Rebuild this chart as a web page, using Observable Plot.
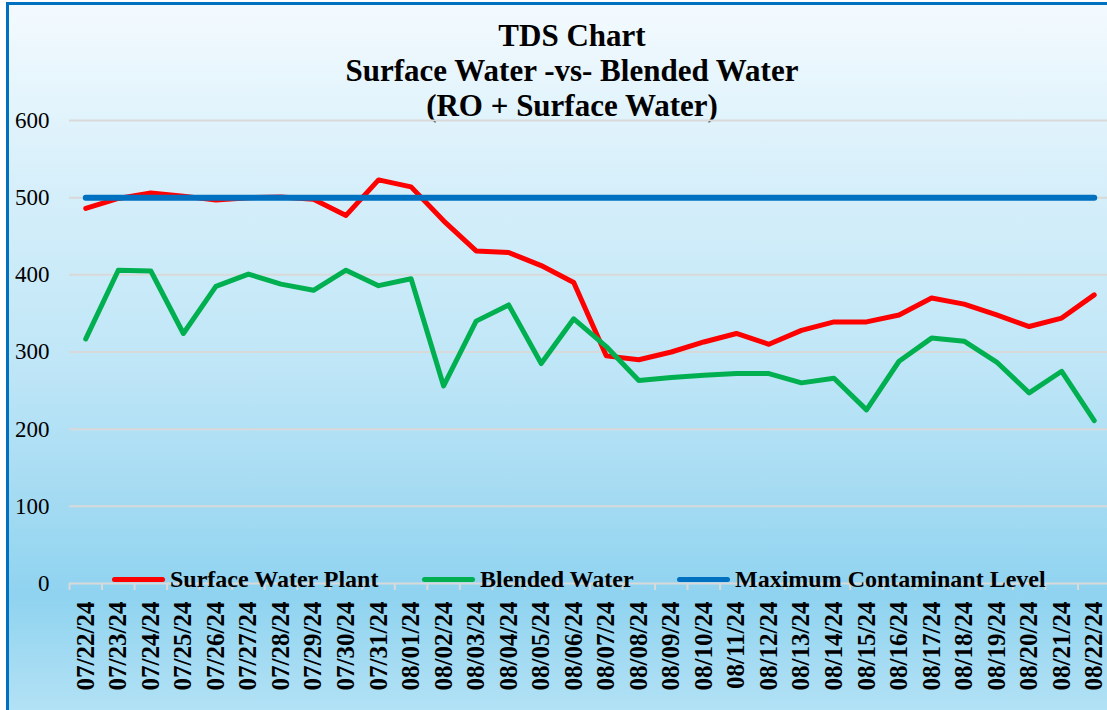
<!DOCTYPE html>
<html>
<head>
<meta charset="utf-8">
<script src="https://cdn.jsdelivr.net/npm/d3@7"></script>
<script src="https://cdn.jsdelivr.net/npm/@observablehq/plot@0.6"></script>
<style>
  html, body { margin: 0; padding: 0; background: #ffffff; }
  #wrap { position: relative; width: 1107px; height: 710px; overflow: hidden; background: #ffffff;
          font-family: "Liberation Serif", "Times New Roman", serif; }
  #bg { position: absolute; left: 6px; top: 2px; width: 1120px; height: 720px;
        border-left: 3px solid #0070c0; border-top: 3px solid #0070c0;
        background: linear-gradient(to bottom, #f3fafe 0%, #d6effa 25%, #bfe6f7 50%, #a2daf2 70%, #8fd3f0 82%, #a6dcf3 92%, #b6e4f6 100%); }
  #title { position: absolute; left: 0; top: 18px; width: 1144px; text-align: center;
           font-size: 31px; font-weight: bold; line-height: 35px; color: #000; }
  #chart { position: absolute; left: 0; top: 0; width: 1111px; height: 710px; }
  #chart svg { max-width: none !important; width: 1111px; height: 710px; }
  #chart svg text { font-family: "Liberation Serif", "Times New Roman", serif !important; }
  .lg-line { position: absolute; height: 5px; width: 53px; border-radius: 3px; }
  .lg-text { position: absolute; font-size: 24px; font-weight: bold; line-height: 28px; color: #000; white-space: nowrap; }
</style>
</head>
<body>
<div id="wrap">
  <div id="bg"></div>
  <div id="title"></div>
  <div id="chart"></div>
  <div id="legend"></div>
</div>
<script>
const titleLines = ["TDS Chart", "Surface Water -vs- Blended Water", "(RO + Surface Water)"];

const dates = ["07/22/24","07/23/24","07/24/24","07/25/24","07/26/24","07/27/24","07/28/24","07/29/24","07/30/24","07/31/24",
  "08/01/24","08/02/24","08/03/24","08/04/24","08/05/24","08/06/24","08/07/24","08/08/24","08/09/24","08/10/24","08/11/24",
  "08/12/24","08/13/24","08/14/24","08/15/24","08/16/24","08/17/24","08/18/24","08/19/24","08/20/24","08/21/24","08/22/24"];

const surfaceWaterPlant = [486,499,506,502,497,500,501,498,477,523,
  514,470,431,429,412,390,295,290,300,313,324,310,328,339,339,348,370,362,348,333,344,374];

const blendedWater = [317,406,405,324,385,401,388,380,406,386,
  395,256,340,361,285,343,307,263,267,270,272,272,260,266,225,288,318,314,287,247,275,211];

const maxContaminantLevel = [500,500,500,500,500,500,500,500,500,500,
  500,500,500,500,500,500,500,500,500,500,500,500,500,500,500,500,500,500,500,500,500,500];

const yTicks = [0, 100, 200, 300, 400, 500, 600];

const seriesNames = ["Surface Water Plant", "Blended Water", "Maximum Contaminant Level"];
const seriesColors = ["#ff0000", "#00b050", "#0070c0"];
const seriesValues = [surfaceWaterPlant, blendedWater, maxContaminantLevel];

// title
document.getElementById("title").innerHTML = titleLines.map(t => `<div>${t}</div>`).join("");

// tidy table built from the arrays
const rows = [];
seriesNames.forEach((name, s) => {
  dates.forEach((d, i) => rows.push({series: name, date: d, value: seriesValues[s][i]}));
});

const W = 1111, H = 710, mL = 69, mR = 1, mT = 120, mB = 127;
const step = (W - mL - mR) / dates.length;
const font = "Liberation Serif, Times New Roman, serif";

const lineOpts = (name, i, width) => Plot.lineY(rows.filter(r => r.series === name), {
  x: "date", y: "value", stroke: seriesColors[i], strokeWidth: width,
  strokeLinecap: "round", strokeLinejoin: "round"
});

const plot = Plot.plot({
  width: W, height: H,
  marginLeft: mL, marginRight: mR, marginTop: mT, marginBottom: mB,
  style: {background: "transparent", fontFamily: font, color: "#000", overflow: "visible", maxWidth: "none"},
  x: {type: "point", domain: dates, padding: 0.5, round: false},
  y: {domain: [0, 600]},
  marks: [
    Plot.ruleY(yTicks, {stroke: "#d9d9d9", strokeWidth: 2}),
    Plot.axisX({tickSize: 7, tickFormat: () => "", dx: -step / 2, stroke: "#d9d9d9", strokeWidth: 2, label: null}),
    Plot.axisX({tickSize: 0, tickPadding: 18, tickRotate: -90, fontSize: 25, fontWeight: "bold",
                fill: "#000", label: null}),
    Plot.axisY({ticks: yTicks, tickSize: 0, tickPadding: 20, fontSize: 23, fill: "#000", label: null}),
    lineOpts(seriesNames[0], 0, 5),
    lineOpts(seriesNames[1], 1, 5),
    lineOpts(seriesNames[2], 2, 6)
  ]
});
document.getElementById("chart").appendChild(plot);

// legend (overlapping the x axis like the reference)
const legendPos = [[112, 170], [422, 480], [677, 735]];
const lg = document.getElementById("legend");
seriesNames.forEach((name, i) => {
  const ln = document.createElement("div");
  ln.className = "lg-line";
  ln.style.left = legendPos[i][0] + "px";
  ln.style.top = "577px";
  ln.style.background = seriesColors[i];
  lg.appendChild(ln);
  const tx = document.createElement("div");
  tx.className = "lg-text";
  tx.style.left = legendPos[i][1] + "px";
  tx.style.top = "565px";
  tx.textContent = name;
  lg.appendChild(tx);
});
</script>
</body>
</html>
